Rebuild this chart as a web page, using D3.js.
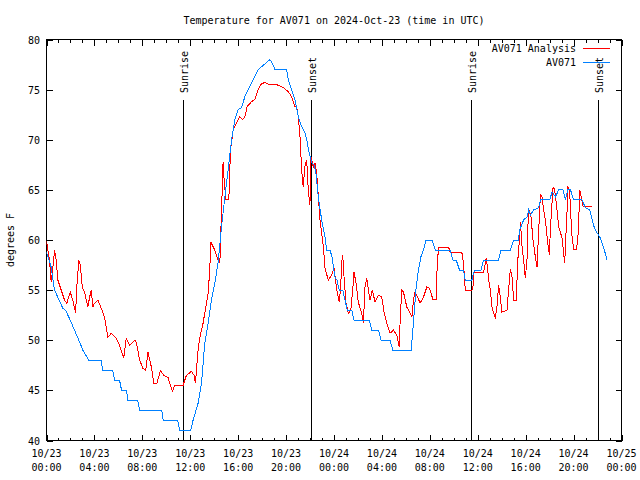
<!DOCTYPE html>
<html><head><meta charset="utf-8">
<script src="https://cdn.jsdelivr.net/npm/d3@7/dist/d3.min.js"></script>
<style>
body{margin:0;background:#fff}
text{font-family:"DejaVu Sans Mono",monospace;font-size:10px;fill:#000}
</style>
</head><body>
<svg id="chart" width="640" height="480"></svg>
<script>
// ---------- data ----------
const titleText = "Temperature for AV071 on 2024-Oct-23 (time in UTC)";
const yAxisLabel = "degrees F";
const xTickHours = [0,4,8,12,16,20,24,28,32,36,40,44,48];
const xTickDates = ["10/23","10/23","10/23","10/23","10/23","10/23","10/24","10/24","10/24","10/24","10/24","10/24","10/25"];
const xTickTimes = ["00:00","04:00","08:00","12:00","16:00","20:00","00:00","04:00","08:00","12:00","16:00","20:00","00:00"];
const yTickValues = [40,45,50,55,60,65,70,75,80];
const seriesNames = ["AV071 Analysis","AV071"];
const seriesColors = ["#ff0000","#0080ff"];
const sunLabels = ["Sunrise","Sunset","Sunrise","Sunset"];
const sunHours = [11.39,22.08,35.43,46.04];

// hours since 10/23 00:00 UTC
const analysisHours = [0,0.11,0.25,0.39,0.53,0.67,0.81,0.95,1.23,1.51,1.70,1.98,2.20,2.43,2.53,2.70,2.82,2.99,3.18,3.45,3.60,3.74,3.87,4.01,4.29,4.57,4.85,5.13,5.41,5.83,6.10,6.44,6.66,6.94,7.36,7.50,7.78,8.05,8.28,8.47,8.76,8.95,9.22,9.51,9.78,10.14,10.51,10.70,11.40,11.68,12.10,12.32,12.43,12.65,12.79,13.07,13.35,13.49,13.63,13.71,14.05,14.32,14.47,14.52,14.61,14.74,14.83,14.97,15.22,15.36,15.44,15.58,15.86,16.14,16.36,16.56,16.75,17.12,17.39,17.67,17.95,18.23,18.65,19.21,19.76,20.18,20.46,20.74,20.88,21.02,21.16,21.30,21.43,21.57,21.72,21.85,21.99,22.08,22.27,22.41,22.55,22.83,23.11,23.25,23.52,23.81,24.00,24.23,24.44,24.56,24.64,24.73,24.84,25.00,25.20,25.40,25.56,25.67,25.84,26.03,26.23,26.40,26.45,26.59,26.73,26.87,27.01,27.20,27.43,27.70,27.99,28.18,28.41,28.68,28.96,29.24,29.38,29.46,29.52,29.66,29.80,30.08,30.36,30.50,30.63,30.77,30.97,31.19,31.47,31.75,31.97,32.25,32.53,32.59,32.72,33.56,33.70,34.68,34.81,34.90,34.96,35.51,35.60,35.65,36.49,36.71,36.82,36.91,37.05,37.19,37.32,37.46,37.60,37.74,37.88,38.02,38.44,38.57,38.72,38.86,39.00,39.22,39.33,39.50,39.56,39.70,39.83,39.97,40.11,40.20,40.31,40.45,40.61,40.81,40.95,41.08,41.23,41.37,41.50,41.65,41.84,41.98,42.06,42.20,42.29,42.42,42.62,42.76,43.04,43.17,43.26,43.34,43.46,43.51,43.68,43.74,43.88,44.01,44.24,44.35,44.43,44.52,44.63,44.80,45.55];
const analysisTemps = [59.9,59,58,55.8,57.2,59,58,56,55,54,53.7,54.8,54,52.7,55.3,58,57.5,55.3,54.8,53.3,54.3,55,53.3,53.7,54,53.2,52.3,50.3,50.7,50.2,49.5,48.2,50.2,49.5,50,49.8,48,47.2,47,48.8,47.3,45.7,45.7,47,46.5,46.3,44.9,45.5,45.5,46.5,46.9,46.5,45.7,49,50.2,51.7,53.7,54.7,57,59.8,59,58,57.7,59.7,62.8,67.8,66,64,64,69,69.7,71,71.7,72.3,72,72.3,73.3,73.8,74,75,75.6,75.7,75.5,75.5,75.2,74.8,74.3,73.3,73.3,72.3,70.3,67,65.3,67.3,68,65,63.5,68.3,67.3,67.7,66.7,62,59.3,57.2,56,56.5,57.2,55,53.8,55.3,57.7,58.5,56.3,53.7,52.7,53,55,56.8,55.7,53.8,53,52.3,51.7,55.3,56.2,55,54,55,53.8,54.5,54.3,52.8,51.7,50.7,51,50.5,49.7,49.3,52,55,54.8,53.3,52.7,52.3,54,54.8,54.3,53.7,54.3,55.3,55.2,54.1,54.1,56.7,59.3,59.3,58.8,58.7,57.7,56,55,55,55.3,56.8,56.8,58.2,57.2,56,55,53.3,52.7,52.3,53.3,55.5,54.3,52.8,53,55,57.1,56.3,54,54,57.8,60.3,61.8,59.3,58,56.2,58,61.8,63,62.3,60,58.3,57.3,60.8,64.5,64.3,63,62,59.7,58.5,61,63.7,65.3,65,63,61.3,60.2,58.7,57.7,60,63,65.4,64.7,63,60.2,59.1,59.1,60,62,65,64.3,63.3,63.3];

const obsHours = [0,0.39,0.67,1.36,1.59,1.98,2.34,2.70,3.04,3.54,4.57,4.68,5.52,5.69,6.10,6.27,6.69,6.77,7.61,7.78,9.62,9.74,10.95,11.12,12.04,12.23,12.65,12.94,13.21,13.49,13.77,14.05,14.32,14.61,14.89,15.16,15.45,15.72,16.00,16.28,16.56,16.83,17.25,17.67,18.37,18.65,18.82,19.07,20.04,20.18,20.46,20.74,21.02,21.30,21.58,21.72,21.93,22.14,22.33,22.49,22.69,22.97,23.25,23.39,23.67,23.83,24.08,24.25,24.44,24.73,24.92,25.11,25.48,25.67,26.95,27.15,27.71,27.93,28.68,28.91,30.44,30.58,30.69,30.86,31.05,31.25,31.47,31.69,32.17,32.45,33.70,33.93,34.20,34.48,34.81,34.96,35.51,35.65,35.79,36.27,36.49,37.74,37.94,38.72,39.00,39.39,39.50,39.83,40.11,40.25,40.39,40.67,41.08,41.23,42.00,42.21,42.48,42.76,43.12,43.32,43.51,43.74,44.01,44.71,44.99,45.35,45.55,45.74,45.97,46.24,46.52,46.80];
const obsTemps = [58.8,57.3,55,53.2,53,52,51,50,49,48,48,47,47,46,46,45,45,44,44,43,43,42,42,41,41,42,43.7,45.7,49.7,51.7,54,55.7,57.7,61.3,64.3,67,70,72,73,73.2,74.3,75,76,77,77.7,78,77.7,77,77,76,75,74,72.3,71.3,70.7,70,68.7,67.7,67.5,66.7,64.3,62,60.3,59,59,58.3,56.3,56,55,55,54,53,53,52,52,51,51,50,50,49,49,51,52.7,55.3,57,58.3,59,60,60,59,59,58,58,57,57,56,56,56.7,57,57,58,58,59,59,60,60,61,62,62.3,63,62.5,63,63.2,64,64,64.8,64.3,65,65,64,65,65,64,64,63.2,63,62,61.2,60.7,60.2,59.2,58];

// ---------- layout ----------
const L = 46.5, R = 621.5, T = 39.5, B = 440.5;
const svg = d3.select("#chart");
const x = d3.scaleLinear().domain([0,48]).range([L,R]);
const y = d3.scaleLinear().domain([40,80]).range([B,T]);

const axisG = svg.append("g").attr("shape-rendering","crispEdges");
// minor + major x ticks (bottom and top)
const hourTicks = d3.range(0,49);
hourTicks.forEach(h=>{
  const major = h % 4 === 0;
  const len = major ? 6 : 3;
  const xp = Math.round(x(h)) + 0.5;
  axisG.append("line").attr("x1",xp).attr("x2",xp).attr("y1",B).attr("y2",B-len).attr("stroke","#000");
  axisG.append("line").attr("x1",xp).attr("x2",xp).attr("y1",T).attr("y2",T+len).attr("stroke","#000");
});
yTickValues.forEach(v=>{
  const yp = Math.round(y(v)) + 0.5;
  axisG.append("line").attr("x1",L).attr("x2",L+6).attr("y1",yp).attr("y2",yp).attr("stroke","#000");
  axisG.append("line").attr("x1",R).attr("x2",R-6).attr("y1",yp).attr("y2",yp).attr("stroke","#000");
  svg.append("text").attr("x",40).attr("y",yp+3.5).attr("text-anchor","end").text(v);
});
xTickHours.forEach((h,i)=>{
  svg.append("text").attr("x",x(h)).attr("y",457).attr("text-anchor","middle").text(xTickDates[i]);
  svg.append("text").attr("x",x(h)).attr("y",471).attr("text-anchor","middle").text(xTickTimes[i]);
});

// sunrise / sunset
sunHours.forEach((h,i)=>{
  const xp = Math.round(x(h)) + 0.5;
  axisG.append("line").attr("x1",xp).attr("x2",xp).attr("y1",100).attr("y2",B).attr("stroke","#000");
  svg.append("text").attr("transform",`translate(${xp+4},93) rotate(-90)`).attr("text-anchor","start").text(sunLabels[i]);
});

// data lines
const line = d3.line().x(d=>x(d[0])).y(d=>y(d[1]));
svg.append("clipPath").attr("id","pc").append("rect").attr("x",L).attr("y",T).attr("width",R-L).attr("height",B-T);
const seriesData = [
  d3.zip(analysisHours, analysisTemps),
  d3.zip(obsHours, obsTemps)
];
seriesData.forEach((data,i)=>{
  svg.append("path").datum(data).attr("d",line).attr("fill","none")
    .attr("stroke",seriesColors[i]).attr("stroke-width",1)
    .attr("shape-rendering","crispEdges").attr("clip-path","url(#pc)");
});

// border
axisG.append("rect").attr("x",L).attr("y",T).attr("width",R-L).attr("height",B-T).attr("fill","none").attr("stroke","#000");

// legend
seriesNames.forEach((name,i)=>{
  const ly = 48.5 + i*14;
  svg.append("text").attr("x",576).attr("y",ly+3.5).attr("text-anchor","end").text(name);
  axisG.append("line").attr("x1",583).attr("x2",610).attr("y1",ly).attr("y2",ly).attr("stroke",seriesColors[i]);
});

// title and y label
svg.append("text").attr("x",(L+R)/2).attr("y",24).attr("text-anchor","middle").text(titleText);
svg.append("text").attr("transform","translate(14,240) rotate(-90)").attr("text-anchor","middle").text(yAxisLabel);
</script>
</body></html>
